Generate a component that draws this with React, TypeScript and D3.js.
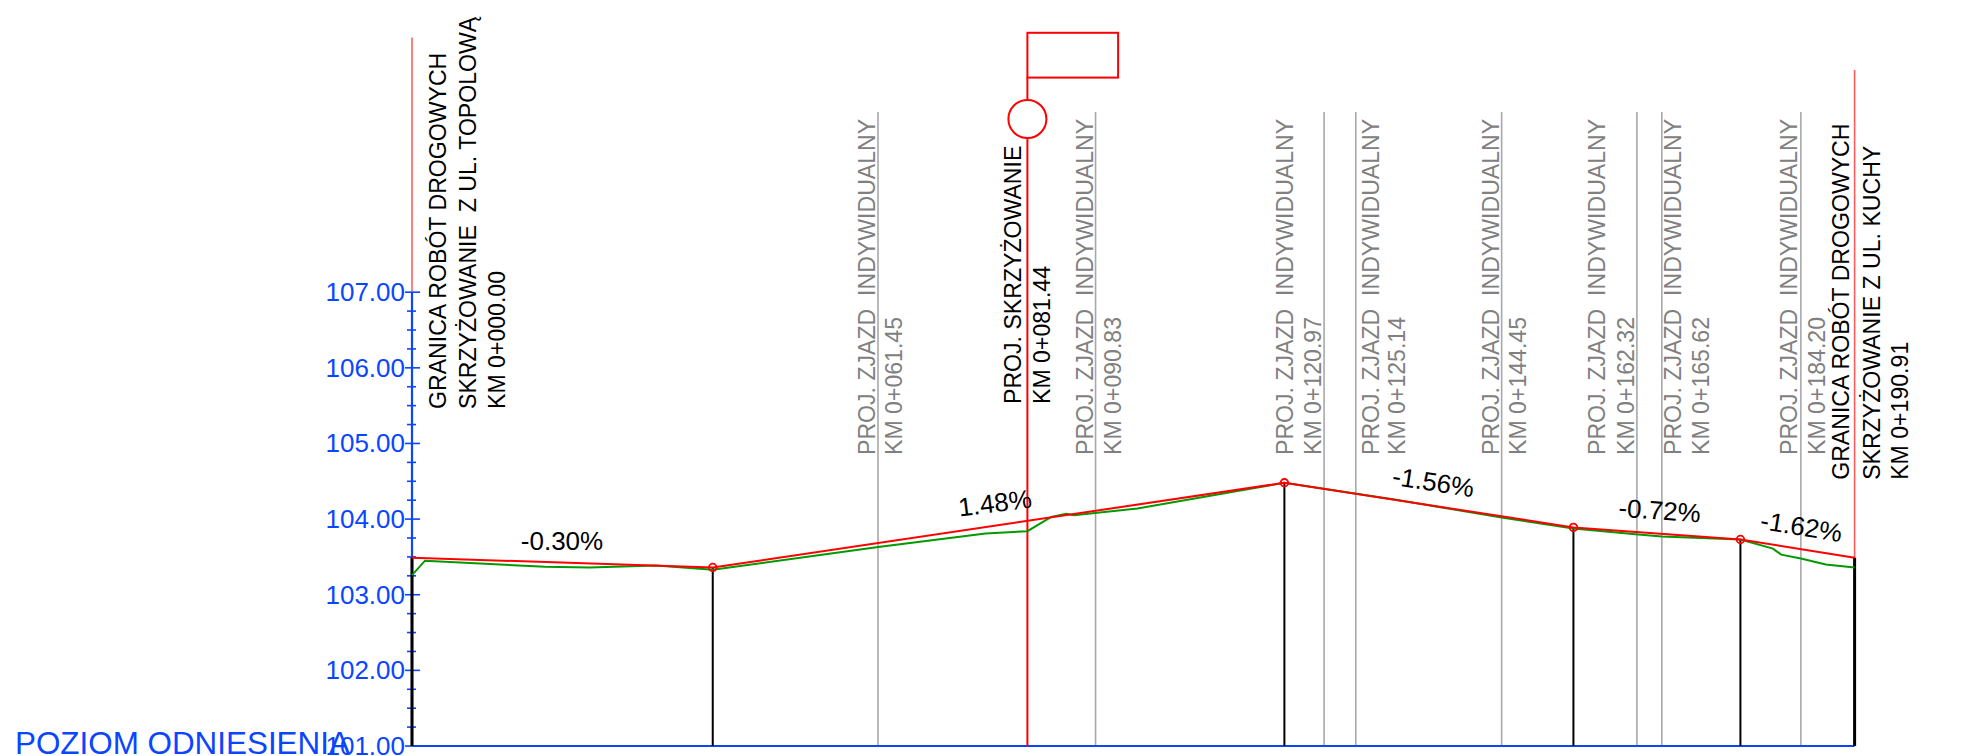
import React from "react";
import * as d3 from "d3";

const width = 1965;
const height = 756;
const FONT = "'Liberation Sans', Arial, sans-serif";

// Design grade: chainage (m), elevation (m)
const gradeChainage = [0, 39.8, 115.45, 153.7, 175.8, 190.91];
const gradeElevation = [103.49, 103.36, 104.48, 103.89, 103.73, 103.49];

// Existing ground
const groundChainage = [0, 1.72, 17.6, 23.5, 32.3, 39.8, 61.7, 75.9, 81.44, 84.6, 86.6, 87.6, 96.0, 115.45, 130.0, 144.2, 153.7, 161.9, 165.4, 175.8, 180.1, 181.2, 183.8, 187.1, 190.91];
const groundElevation = [103.26, 103.45, 103.37, 103.36, 103.385, 103.33, 103.63, 103.81, 103.84, 104.03, 104.07, 104.05, 104.14, 104.48, 104.26, 104.02, 103.875, 103.8, 103.77, 103.73, 103.61, 103.53, 103.48, 103.4, 103.36];

const elevationTicks = [101, 102, 103, 104, 105, 106, 107];
const elevationMinorStep = 0.25;

// Driveways
const drivewayChainage = [61.67, 90.46, 120.7, 124.9, 144.2, 162.1, 165.4, 183.8];
const drivewayKm = ["KM 0+061.45", "KM 0+090.83", "KM 0+120.97", "KM 0+125.14", "KM 0+144.45", "KM 0+162.32", "KM 0+165.62", "KM 0+184.20"];
const drivewayTitleOffset = [-3, -2.6, -31, 23.3, -3, -31.4, 19.1, -3.8];
const drivewayKmOffset = [24.2, 25, -3, 49.6, 24.6, -2.5, 47.5, 24.2];

const slopeLabels = ["-0.30%", "1.48%", "-1.56%", "-0.72%", "-1.62%"];
const slopeAngles = [0, -7, 8.9, 4.1, 9.2];
const slopeXCenter = [562, 996, 1432, 1659, 1800];
const slopeYBaseline = [549.7, 512, 491, 519.5, 535.5];

const crossingChainage = 81.44;

const x = d3.scaleLinear().domain([0, 190.91]).range([412, 1854.6]);
const y = d3.scaleLinear().domain([101, 107]).range([746, 292.2]);

const zip = (a: number[], b: number[]) => a.map((v, i) => [v, b[i]] as [number, number]);
const lineGen = d3.line<[number, number]>().x((d) => x(d[0])).y((d) => y(d[1]));

const RED = "#ff0000";
const BLUE = "#0a45ff";
const GREEN = "#009a00";
const GREY_TEXT = "#808080";
const GREY_LINE = "#a8a8a8";

function VText({ px, py, fill = "#000", size = 23.1, children }: any) {
  return (
    <text
      transform={`translate(${px},${py}) rotate(-90)`}
      fill={fill}
      fontSize={size}
      xmlSpace="preserve"
      style={{ whiteSpace: "pre" }}
    >
      {children}
    </text>
  );
}

export default function App() {
  const base = y(101);
  const startY = y(gradeElevation[0]);
  const endY = y(gradeElevation[gradeElevation.length - 1]);
  const crossX = x(crossingChainage);
  return (
    <svg
      width={width}
      height={height}
      viewBox={`0 0 ${width} ${height}`}
      fontFamily={FONT}
      style={{ position: "absolute", left: 0, top: 0, background: "#fff" }}
    >
      {/* driveway lines */}
      {drivewayChainage.map((c, i) => (
        <line key={i} x1={x(c)} x2={x(c)} y1={112} y2={base} stroke={GREY_LINE} strokeWidth={1.6} />
      ))}
      {drivewayChainage.map((c, i) => (
        <g key={i}>
          <VText px={x(c) + drivewayTitleOffset[i]} py={455} fill={GREY_TEXT}>
            {"PROJ. ZJAZD  INDYWIDUALNY"}
          </VText>
          <VText px={x(c) + drivewayKmOffset[i]} py={455} fill={GREY_TEXT}>
            {drivewayKm[i]}
          </VText>
        </g>
      ))}

      {/* boundaries */}
      <line x1={x(0)} x2={x(0)} y1={37.6} y2={startY} stroke={RED} strokeWidth={1} />
      <line x1={x(190.91)} x2={x(190.91)} y1={70} y2={endY} stroke="#ff5a5a" strokeWidth={1.6} />

      {/* axis */}
      <line x1={x(0)} x2={x(0)} y1={y(107)} y2={base} stroke={BLUE} strokeWidth={2.2} />
      {d3.range(101, 107.01, elevationMinorStep).map((v) => (
        <line
          key={v}
          x1={elevationTicks.includes(v) ? 405 : 407}
          x2={elevationTicks.includes(v) ? 420 : 416}
          y1={y(v)}
          y2={y(v)}
          stroke={BLUE}
          strokeWidth={1.6}
        />
      ))}
      {elevationTicks.map((v) => (
        <text key={v} x={405} y={y(v) + 8.8} textAnchor="end" fill={BLUE} fontSize={26}>
          {v.toFixed(2)}
        </text>
      ))}
      <text x={15} y={754} fill={BLUE} fontSize={31.4}>POZIOM ODNIESIENIA</text>

      {/* base line */}
      <line x1={x(0)} x2={x(190.91)} y1={base} y2={base} stroke={BLUE} strokeWidth={2} />

      {/* black ordinates */}
      {gradeChainage.map((c, i) => (
        <line
          key={i}
          x1={x(c)}
          x2={x(c)}
          y1={y(gradeElevation[i])}
          y2={base}
          stroke="#000"
          strokeWidth={i === 0 || i === gradeChainage.length - 1 ? 3 : 2}
        />
      ))}

      {/* crossing marker */}
      <line x1={crossX} x2={crossX} y1={77.6} y2={base} stroke={RED} strokeWidth={2} />
      <rect x={crossX} y={32.8} width={90.7} height={44.8} fill="none" stroke={RED} strokeWidth={2} />
      <circle cx={crossX} cy={119} r={19} fill="#fff" stroke={RED} strokeWidth={2} />

      {/* ground and grade */}
      <path d={lineGen(zip(groundChainage, groundElevation)) || ""} fill="none" stroke={GREEN} strokeWidth={2} />
      <path d={lineGen(zip(gradeChainage, gradeElevation)) || ""} fill="none" stroke={RED} strokeWidth={2} />
      {gradeChainage.slice(1, -1).map((c, i) => (
        <circle key={i} cx={x(c)} cy={y(gradeElevation[i + 1])} r={3.8} fill="none" stroke={RED} strokeWidth={1.8} />
      ))}

      {/* black labels */}
      <VText px={445.5} py={409}>GRANICA ROBÓT DROGOWYCH</VText>
      <VText px={476.3} py={409}>{"SKRZYŻOWANIE  Z UL. TOPOLOWĄ"}</VText>
      <VText px={504.5} py={409}>KM 0+000.00</VText>
      <VText px={1021.4} py={404}>PROJ. SKRZYŻOWANIE</VText>
      <VText px={1049.6} py={404}>KM 0+081.44</VText>
      <VText px={1848.8} py={479.8}>GRANICA ROBÓT DROGOWYCH</VText>
      <VText px={1879.7} py={479.8}>SKRZYŻOWANIE Z UL. KUCHY</VText>
      <VText px={1907.7} py={479.8}>KM 0+190.91</VText>

      {/* slopes */}
      {slopeLabels.map((s, i) => (
        <text
          key={s}
          transform={`translate(${slopeXCenter[i]},${slopeYBaseline[i]}) rotate(${slopeAngles[i]})`}
          textAnchor="middle"
          fontSize={26}
          fill="#000"
        >
          {s}
        </text>
      ))}
    </svg>
  );
}
